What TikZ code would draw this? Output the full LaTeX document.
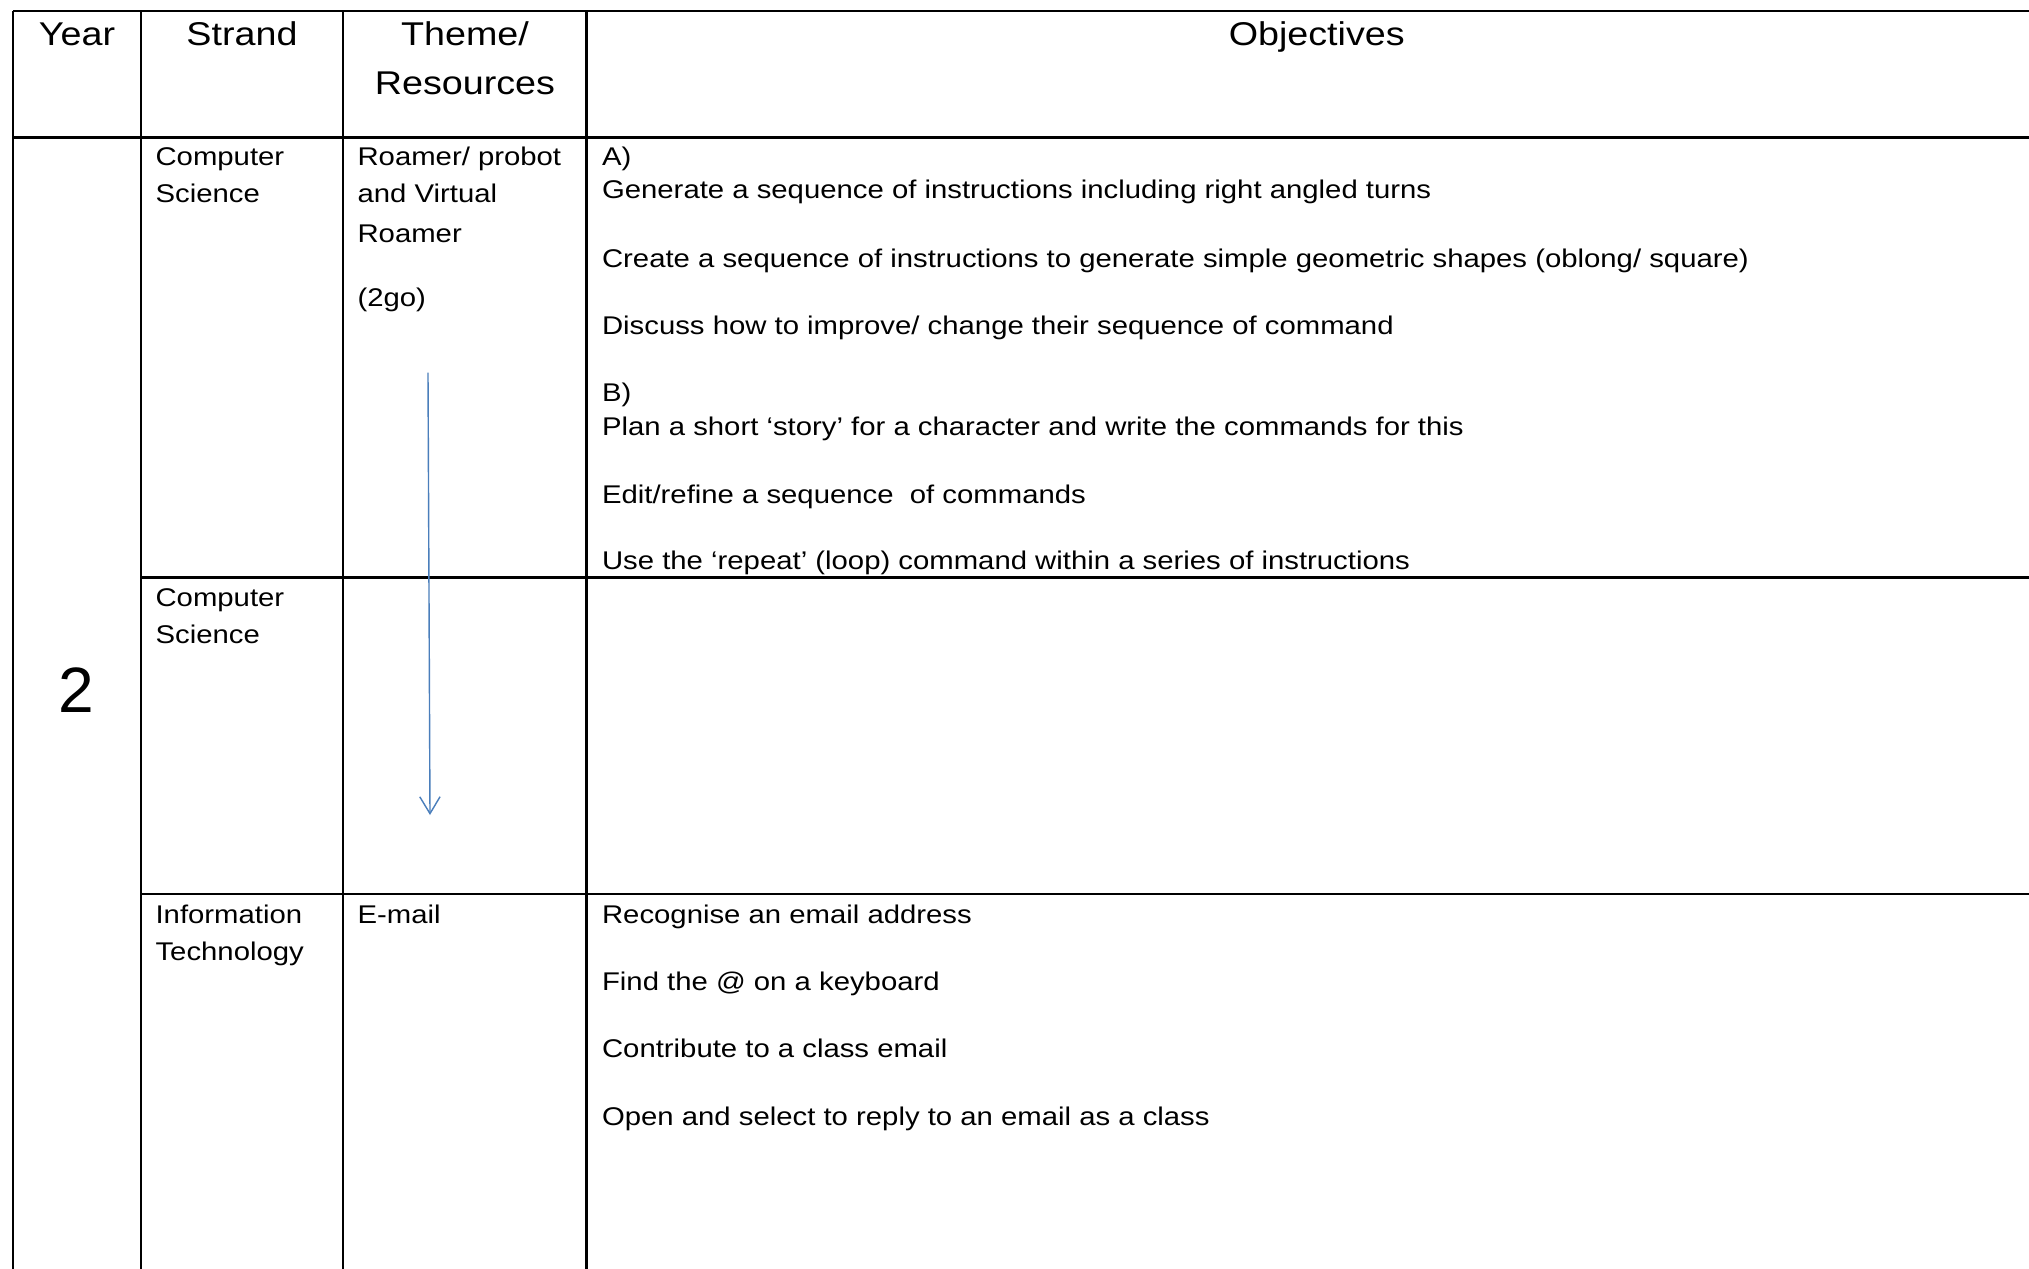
\documentclass[tikz,border=0pt]{standalone}
\usepackage{fontspec}
\setmainfont[FakeStretch=1.145]{Liberation Sans}
\newfontfamily\plainsans{Liberation Sans}
\usetikzlibrary{arrows.meta}
\definecolor{arrowblue}{HTML}{4A7EBB}
\begin{document}
\begin{tikzpicture}[x=0.0125cm,y=-0.0125cm,
  grid/.style={line width=0.95pt, black},
  head/.style={font=\fontsize{11.7}{14}\selectfont, anchor=base, inner sep=0pt},
  body/.style={font=\fontsize{9.1}{11}\selectfont, anchor=base west, inner sep=0pt},
  big/.style={font=\plainsans\fontsize{22.8}{27}\selectfont, anchor=center, inner sep=0pt},
  flow/.style={arrowblue, line width=0.5pt, -{Straight Barb[length=6pt,width=7.2pt]}}]
\useasboundingbox[fill=white] (0,0) rectangle (2029,1269);
% grid lines
\draw[grid] (12.9,11) -- (2029,11);
\draw[grid] (12.9,137.5) -- (2029,137.5);
\draw[grid] (141,577.5) -- (2029,577.5);
\draw[grid] (141,894) -- (2029,894);
\draw[grid] (12.9,11) -- (12.9,1269);
\draw[grid] (141,11) -- (141,1269);
\draw[grid] (343,11) -- (343,1269);
\draw[grid] (586.6,11) -- (586.6,1269);
% header
\node[head] (hyear) at (77,45.5) {Year};
\node[head] (hstrand) at (242,45.5) {Strand};
\node[head] (htheme) at (465,45.5) {Theme/};
\node[head] (hres) at (465,94.3) {Resources};
\node[head] (hobj) at (1316.7,45.5) {Objectives};
% year
\node[big] (year) at (76,689.7) {2};
% row 1
\node[body] (s1a) at (155,165) {Computer};
\node[body] (s1b) at (155,202.7) {Science};
\node[body] (t1a) at (357,165) {Roamer/ probot};
\node[body] (t1b) at (357,202.7) {and Virtual};
\node[body] (t1c) at (357,242.7) {Roamer};
\node[body] (t1d) at (357,306) {(2go)};
\node[body] (o1) at (601.5,165) {A)};
\node[body] (o2) at (601.5,198.4) {Generate a sequence of instructions including right angled turns};
\node[body] (o3) at (601.5,267) {Create a sequence of instructions to generate simple geometric shapes (oblong/ square)};
\node[body] (o4) at (601.5,334.3) {Discuss how to improve/ change their sequence of command};
\node[body] (o5) at (601.5,401.7) {B)};
\node[body] (o6) at (601.5,435.2) {Plan a short ‘story’ for a character and write the commands for this};
\node[body] (o7) at (601.5,503) {Edit/refine a sequence\ \ of commands};
\node[body] (o8) at (601.5,569.5) {Use the ‘repeat’ (loop) command within a series of instructions};
% row 2
\node[body] (s2a) at (155,606) {Computer};
\node[body] (s2b) at (155,643.6) {Science};
% row 3
\node[body] (s3a) at (155,923.3) {Information};
\node[body] (s3b) at (155,960.5) {Technology};
\node[body] (t3a) at (357,923.3) {E-mail};
\node[body] (p1) at (601.5,923.3) {Recognise an email address};
\node[body] (p2) at (601.5,990.4) {Find the @ on a keyboard};
\node[body] (p3) at (601.5,1057.6) {Contribute to a class email};
\node[body] (p4) at (601.5,1125) {Open and select to reply to an email as a class};
% arrow
\coordinate (astart) at (428,372.7);
\coordinate (aend) at (430,815);
\draw[flow] (astart) -- (aend);
\end{tikzpicture}
\end{document}
